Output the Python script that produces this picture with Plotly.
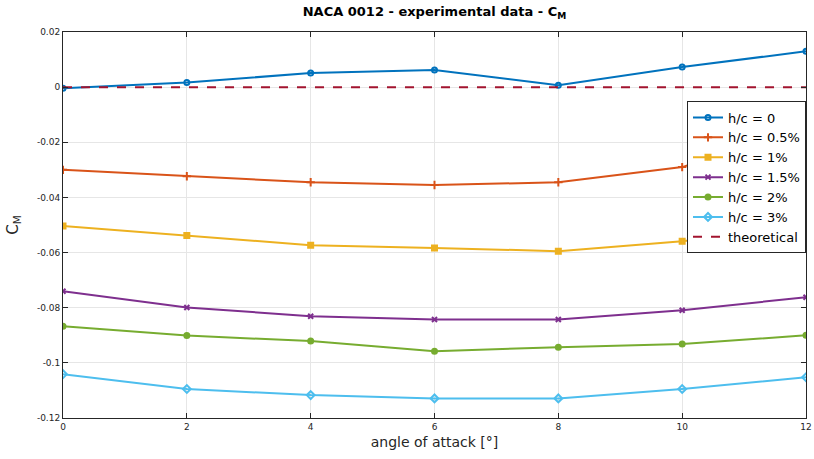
import plotly.graph_objects as go

alpha = [0, 2, 4, 6, 8, 10, 12]
cm_0 = [-0.0004, 0.0017, 0.0051, 0.0062, 0.0007, 0.0073, 0.0130]
cm_05 = [-0.0300, -0.0323, -0.0345, -0.0355, -0.0345, -0.0290, -0.0140]
cm_1 = [-0.0504, -0.0538, -0.0573, -0.0583, -0.0595, -0.0559, -0.0504]
cm_15 = [-0.0740, -0.0799, -0.0831, -0.0843, -0.0843, -0.0809, -0.0762]
cm_2 = [-0.0867, -0.0901, -0.0921, -0.0958, -0.0943, -0.0932, -0.0900]
cm_3 = [-0.1041, -0.1095, -0.1117, -0.1129, -0.1129, -0.1095, -0.1052]
cm_theory = [0, 0, 0, 0, 0, 0, 0]

y_tickvals = [0.02, 0, -0.02, -0.04, -0.06, -0.08, -0.1, -0.12]
y_ticktext = ["0.02", "0", "-0.02", "-0.04", "-0.06", "-0.08", "-0.1", "-0.12"]

names = ["h/c = 0", "h/c = 0.5%", "h/c = 1%", "h/c = 1.5%", "h/c = 2%", "h/c = 3%"]
series = [cm_0, cm_05, cm_1, cm_15, cm_2, cm_3]
colors = ["#0072BD", "#D95319", "#EDB120", "#7E2F8E", "#77AC30", "#4DBEEE"]
symbols = ["circle-open", "cross-thin-open", "square", "x-thin-open", "circle", "diamond-open"]
sizes = [5, 6, 5, 5, 5, 6]

fig = go.Figure()
for n, s, c, sym, sz in zip(names, series, colors, symbols, sizes):
    fig.add_trace(go.Scatter(
        x=alpha, y=s, name=n, mode="lines+markers",
        line=dict(color=c, width=2),
        marker=dict(symbol=sym, size=sz, color=c, line=dict(color=c, width=2)),
    ))
fig.add_trace(go.Scatter(
    x=alpha, y=cm_theory, name="theoretical", mode="lines",
    line=dict(color="#A2142F", width=2, dash="dash"),
))

axis_common = dict(
    showline=True, linecolor="#262626", linewidth=1, mirror="ticks",
    ticks="inside", ticklen=5, tickcolor="#262626",
    showgrid=True, gridcolor="#e6e6e6", gridwidth=1, zeroline=False,
    tickfont=dict(family="DejaVu Sans", size=9, color="#262626"),
    automargin=False,
)

fig.update_layout(
    width=814, height=459,
    margin=dict(l=63, r=8, t=32, b=41),
    paper_bgcolor="white", plot_bgcolor="white",
    title=dict(
        text="<b>NACA 0012 - experimental data - C<sub>M</sub></b>",
        x=(63 + 806) / 2 / 814, xanchor="center", y=0.985, yanchor="top",
        font=dict(family="DejaVu Sans", size=13, color="black"),
    ),
    xaxis=dict(range=[0, 12], tickvals=alpha,
               title=dict(text="angle of attack [°]", standoff=6,
                          font=dict(family="DejaVu Sans", size=14, color="#262626")),
               **axis_common),
    yaxis=dict(range=[-0.12, 0.02], tickvals=y_tickvals, ticktext=y_ticktext,
               title=dict(text="C<sub>M</sub>", standoff=14,
                          font=dict(family="DejaVu Sans", size=15, color="#262626")),
               **axis_common),
    legend=dict(
        x=1, xanchor="right", y=0.82, yanchor="top",
        bgcolor="white", bordercolor="#262626", borderwidth=1,
        font=dict(family="DejaVu Sans", size=13, color="black"),
        itemwidth=30, tracegroupgap=0,
    ),
    showlegend=True,
)

fig.write_html("out.html")
